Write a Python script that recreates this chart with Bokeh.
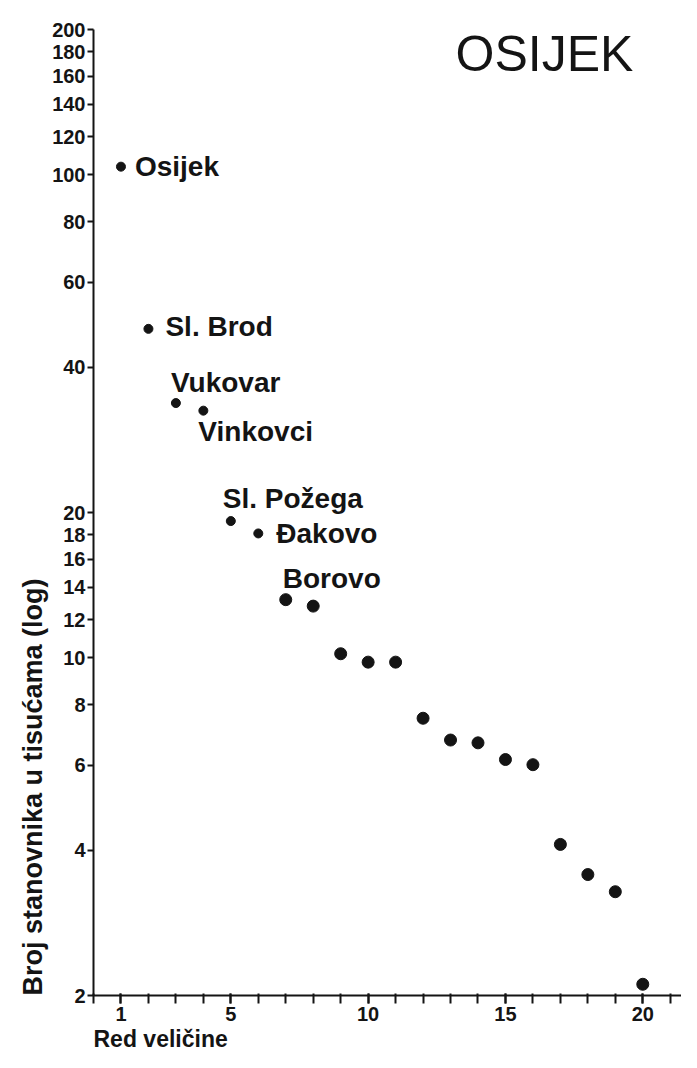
import math
from bokeh.plotting import figure
from bokeh.models import FixedTicker, Range1d, Title, ColumnDataSource
from bokeh.core.properties import value
from bokeh.embed import file_html
from bokeh.resources import INLINE

# ---- data ----
ranks = list(range(1, 21))
population = [104, 48, 33.7, 32.5, 19.2, 18.1, 13.2, 12.8, 10.2, 9.8,
              9.8, 7.5, 6.76, 6.67, 6.16, 6.01, 4.11, 3.56, 3.28, 2.11]
names = ["Osijek", "Sl. Brod", "Vukovar", "Vinkovci", "Sl. Požega", "Đakovo", "Borovo"]
y_ticks = [2, 4, 6, 8, 10, 12, 14, 16, 18, 20, 40, 60, 80, 100, 120, 140, 160, 180, 200]
x_ticks = [1, 5, 10, 15, 20]
title_text = "OSIJEK"
x_label = "Red veličine"
y_label = "Broj stanovnika u tisućama (log)"

# ---- layout ----
W, H = 681, 1052
BL, BR, BT, BB = 93, 0, 29, 57
X0, X1 = 0.0, 21.41
Y0, Y1 = 2.0, 200.0
FONT = "Liberation Sans"
INK = "#141414"

p = figure(width=W, height=H, output_backend="svg", toolbar_location=None,
           y_axis_type="log", x_range=Range1d(X0, X1), y_range=Range1d(Y0, Y1),
           min_border_left=BL, min_border_right=BR, min_border_top=BT,
           min_border_bottom=BB)
p.outline_line_color = None
p.grid.visible = False
p.background_fill_color = "white"
p.border_fill_color = "white"

fw = W - BL - BR
fh = H - BT - BB


def wx(px):
    return X0 + (px - BL) / fw * (X1 - X0)


def wy(py):
    frac = (H - BB - py) / fh
    return 10 ** (math.log10(Y0) + frac * (math.log10(Y1) - math.log10(Y0)))


# axes
p.xaxis.ticker = FixedTicker(ticks=x_ticks, minor_ticks=list(range(0, 23)))
p.yaxis.ticker = FixedTicker(ticks=y_ticks, minor_ticks=[])
p.yaxis.major_label_overrides = {t: str(t) for t in y_ticks}
for ax in (p.xaxis[0], p.yaxis[0]):
    ax.axis_line_width = 2
    ax.axis_line_color = INK
    ax.major_tick_line_width = 2
    ax.major_tick_line_color = INK
    ax.minor_tick_line_width = 2
    ax.minor_tick_line_color = INK
    ax.major_label_text_font = FONT
    ax.major_label_text_font_style = "bold"
    ax.major_label_text_font_size = "20px"
    ax.major_label_text_color = INK
p.xaxis.major_tick_out = 8
p.xaxis.major_tick_in = 2
p.xaxis.minor_tick_out = 8
p.xaxis.minor_tick_in = 2
p.xaxis.major_label_standoff = 3
p.yaxis.major_tick_out = 6
p.yaxis.major_tick_in = 0
p.yaxis.major_label_standoff = 2

# points
src_lab = ColumnDataSource(dict(x=ranks[:6], y=population[:6]))
src_rest = ColumnDataSource(dict(x=ranks[6:], y=population[6:]))
p.scatter("x", "y", source=src_lab, size=9, color=INK)
p.scatter("x", "y", source=src_rest, size=12, color=INK)

# point labels: (x_offset, y_offset) with text centred vertically
placements = [(14, 0), (17, -2), (-5, -21), (-5, 21), (-8, -23), (18, 0), (-3, -21)]
for i, nm in enumerate(names):
    dx, dy = placements[i]
    p.text(x=[ranks[i]], y=[population[i]], text=[nm], x_offset=dx, y_offset=dy,
           text_align="left", text_baseline="middle", text_font=value(FONT),
           text_font_style="bold", text_font_size="28px", text_color=INK)

# title inside plot
p.text(x=[wx(455)], y=[wy(53)], text=[title_text], text_align="left",
       text_baseline="middle", text_font=value(FONT), text_font_size="50px",
       text_color=INK)

# axis labels
p.add_layout(Title(text=x_label, align="left", standoff=0, text_font=FONT,
                   text_font_style="bold", text_font_size="23px", text_color=INK),
             "below")
p.add_layout(Title(text=y_label, align="left", standoff=4, text_font=FONT,
                   text_font_style="bold", text_font_size="27px", text_color=INK),
             "left")

open("out.html", "w").write(file_html(p, INLINE))
